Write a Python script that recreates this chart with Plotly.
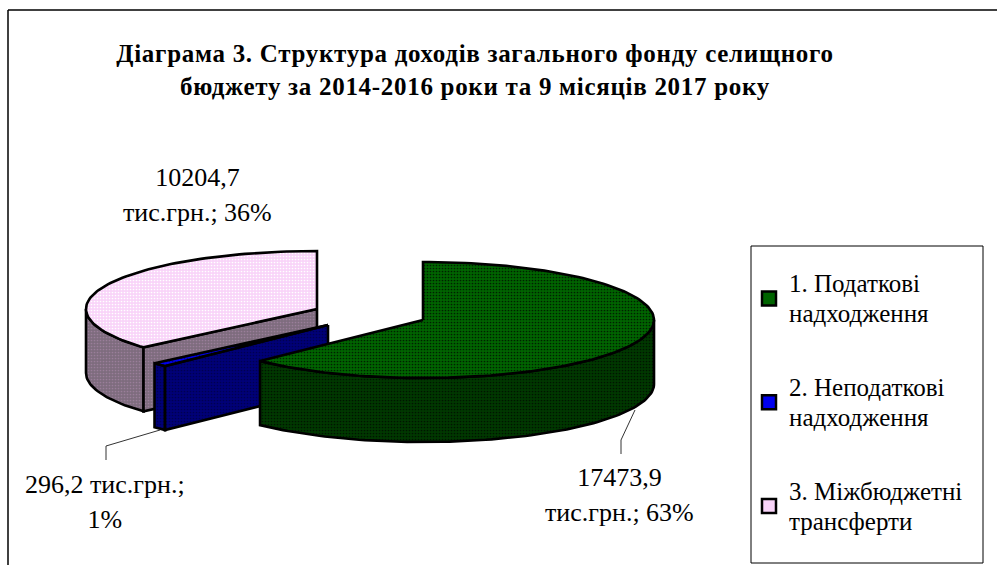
import math
import plotly.graph_objects as go

names = ["1. Податкові<br>надходження", "2. Неподаткові<br>надходження", "3. Міжбюджетні<br>трансферти"]
values = [17473.9, 296.2, 10204.7]
label_lines = ["17473,9<br>тис.грн.; 63%", "296,2 тис.грн.;<br>1%", "10204,7<br>тис.грн.; 36%"]
title_text = "Діаграма 3. Структура доходів загального фонду селищного<br>бюджету за 2014-2016 роки та 9 місяців 2017 року"

top_colors = ["#006400", "#0000F0", "#F9D4F9"]
top_dots = ["#002000", "#000090", "#FFFFFF"]
wall_colors = ["#003800", "#000078", "#7E6C7E"]
wall_dots = ["#001400", "#000050", "#9A7E9A"]
centers = [(423, 320), (328, 325), (317, 309)]
RX, RY, DEPTH = 231, 58, 64
FONT = "Liberation Serif"

total = sum(values)
angles = [0]
for v in values:
    angles.append(angles[-1] + 360 * v / total)


def pt(c, deg, dz=0):
    a = math.radians(deg)
    return c[0] + RX * math.sin(a), c[1] - RY * math.cos(a) + dz


def arc(c, a0, a1, dz=0):
    n = max(2, int(abs(a1 - a0) / 1.5))
    return [pt(c, a0 + (a1 - a0) * i / n, dz) for i in range(n + 1)]


fig = go.Figure()


def poly(points, color, dots, hover):
    xs = [p[0] for p in points] + [points[0][0]]
    ys = [p[1] for p in points] + [points[0][1]]
    fig.add_trace(go.Scatter(x=xs, y=ys, mode="lines", fill="toself", fillcolor=color,
                             fillpattern=dict(shape=".", bgcolor=color, fgcolor=dots,
                                              size=3, solidity=0.25, fillmode="replace"),
                             line=dict(color="black", width=2.6), showlegend=False,
                             hoverinfo="text", text=hover))


# painted back to front: third slice, second slice, first slice
for i in [2, 1, 0]:
    c = centers[i]
    a0, a1 = angles[i], angles[i + 1]
    w0, w1 = max(a0, 90), min(a1, 270)
    if w1 > w0:
        poly(arc(c, w0, w1) + arc(c, w1, w0, DEPTH), wall_colors[i], wall_dots[i], names[i])
    if i > 0:
        s = pt(c, a0)
        poly([c, s, (s[0], s[1] + DEPTH), (c[0], c[1] + DEPTH)], wall_colors[i], wall_dots[i], names[i])
    poly([c] + arc(c, a0, a1), top_colors[i], top_dots[i], names[i])

# legend entries
for i in range(3):
    fig.add_trace(go.Scatter(x=[None], y=[None], mode="markers",
                             name=f'<span style="font-size:25px">{names[i]}</span>',
                             legendgroup=str(i),
                             marker=dict(symbol="square", size=14, color=top_colors[i],
                                         line=dict(color="black", width=2.5))))

# leader lines
for lx, ly in [((635, 621, 621), (410, 440, 454)), ((160, 106, 106), (430, 446, 460))]:
    fig.add_trace(go.Scatter(x=lx, y=ly, mode="lines", line=dict(color="#333333", width=1),
                             showlegend=False, hoverinfo="skip"))

label_pos = [(619, 495), (105, 502), (197, 195)]
for txt, (x, y) in zip(label_lines, label_pos):
    fig.add_annotation(x=x, y=y, text=f'<span style="font-size:26px">{txt}</span>', showarrow=False,
                       font=dict(family=FONT, size=27, color="black"), align="center",
                       xanchor="center", yanchor="middle")

fig.update_layout(
    width=997, height=565, margin=dict(l=0, r=0, t=0, b=0),
    paper_bgcolor="white", plot_bgcolor="white",
    font=dict(family=FONT, color="black"),
    title=dict(text=f'<span style="font-size:25px;letter-spacing:0.7px">{title_text}</span>',
               font=dict(family=FONT, size=25.4, color="black", weight="bold"),
               x=475 / 997, xanchor="center", y=1 - 62 / 565, yanchor="middle"),
    xaxis=dict(range=[0, 997], visible=False, fixedrange=True, domain=[0, 1]),
    yaxis=dict(range=[565, 0], visible=False, fixedrange=True, domain=[0, 1]),
    legend=dict(x=749 / 997, y=1 - 262 / 565, xanchor="left", yanchor="top",
                bgcolor="rgba(0,0,0,0)", borderwidth=0, tracegroupgap=41,
                font=dict(family=FONT, size=23, color="black"), itemclick=False, itemdoubleclick=False),
    shapes=[
        dict(type="line", x0=8, x1=8, y0=10, y1=565, line=dict(color="black", width=1.5)),
        dict(type="line", x0=8, x1=997, y0=10, y1=10, line=dict(color="black", width=1.5)),
        dict(type="rect", x0=751, x1=983, y0=246, y1=563, line=dict(color="black", width=1)),
    ],
)

fig.write_html("out.html", post_script="document.body.style.margin='0';",
               config={"displayModeBar": False})
